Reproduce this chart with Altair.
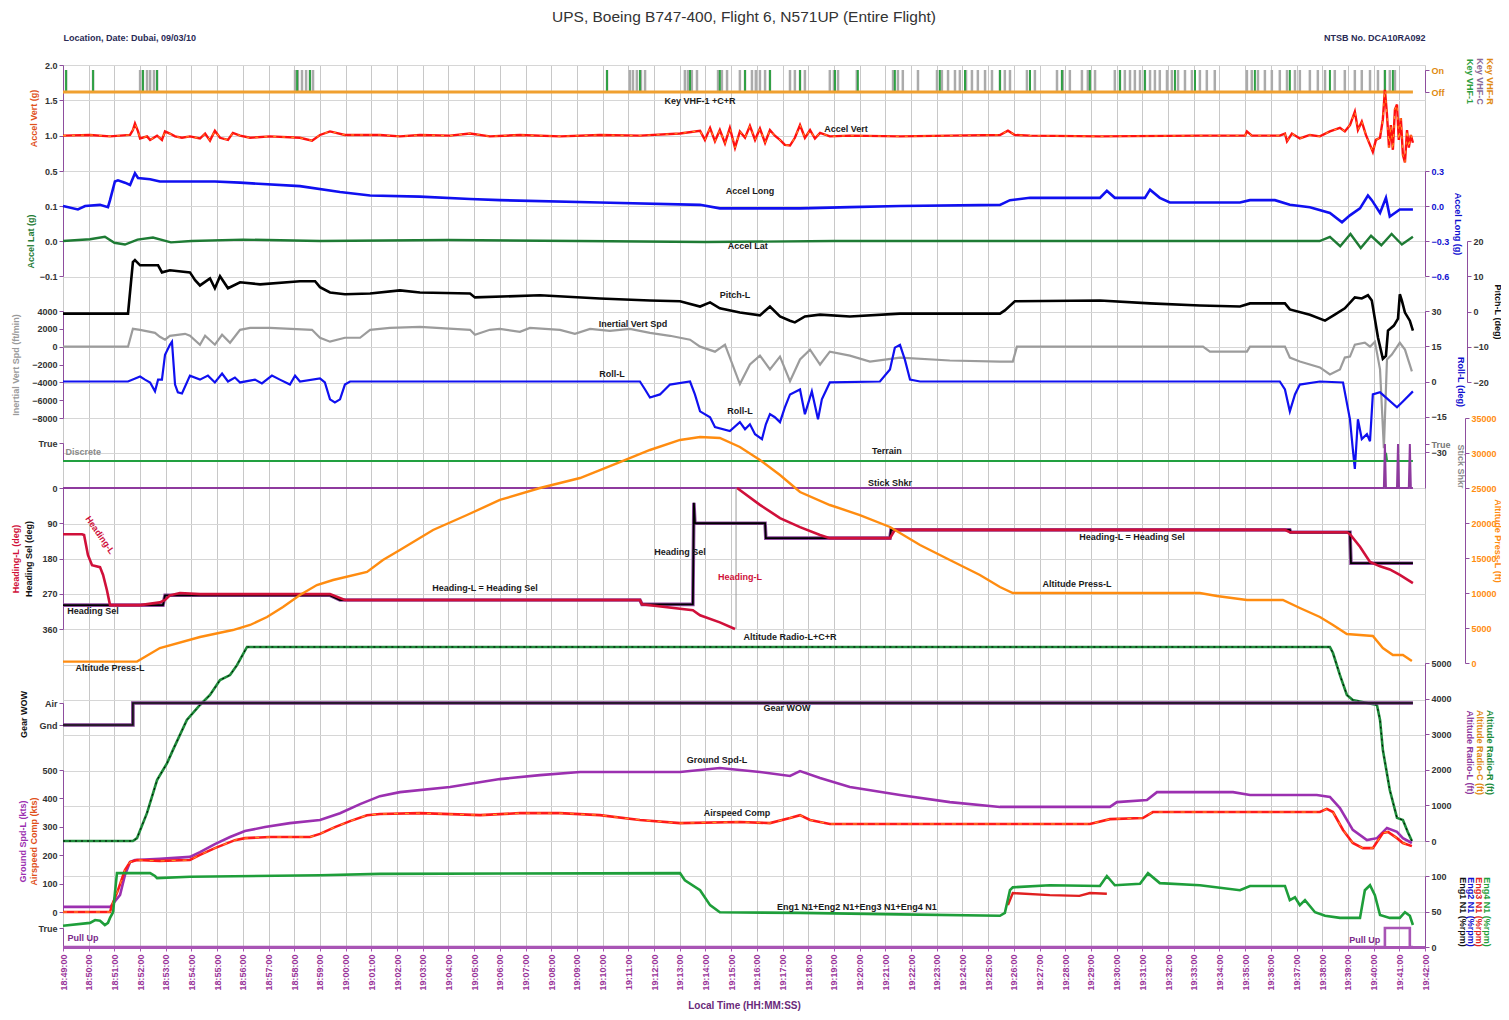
import altair as alt
import pandas as pd

FONT = "Liberation Sans Narrow, Arial Narrow, Liberation Sans, Arial, sans-serif"

# ---------------- data: minutes after 18:49:00 local, value ----------------
tick_minutes = list(range(0, 54))

vhf_keyed_gray = [0.12, 1.17, 3.00, 3.11, 3.27, 3.39, 3.54, 3.66, 9.03, 9.14, 9.30, 9.46, 9.61, 9.73,
                  21.17, 22.06, 22.18, 22.33, 22.49, 22.65, 24.20, 24.32, 24.47, 24.67, 25.49, 25.64,
                  25.84, 26.34, 26.54, 26.81, 26.96, 27.12, 27.32, 27.51, 28.29, 28.48, 28.68, 28.87,
                  29.84, 30.00, 30.16, 30.89, 32.30, 32.49, 32.68, 33.27, 34.01, 34.20, 34.44, 34.71,
                  34.90, 35.14, 35.37, 35.60, 35.88, 36.15, 36.46, 36.65, 36.85, 37.51, 37.82, 38.68,
                  38.91, 39.18, 39.65, 39.88, 40.16, 40.93, 41.13, 41.32, 41.52, 41.71, 41.91, 42.10,
                  42.30, 42.49, 42.68, 42.96, 43.15, 43.39, 43.66, 43.93, 44.24, 44.51, 44.82, 46.07,
                  46.26, 46.50, 46.77, 47.04, 47.35, 47.63, 47.94, 48.13, 48.52, 48.83, 49.11, 49.49,
                  49.88, 50.27, 50.54, 50.86, 51.17, 51.44, 51.63, 51.83]
vhf_keyed_green = [0.12, 1.17, 3.11, 3.66, 9.11, 9.61, 21.17, 22.45, 24.40, 25.56, 26.54, 27.51,
                   28.68, 30.04, 30.93, 32.37, 34.12, 35.10, 36.46, 37.63, 38.87, 39.96, 41.13,
                   42.10, 43.27, 44.05, 46.38, 47.74, 49.30, 51.44, 51.75]
vhf_off = [(0.0, 0), (52.53, 0)]

accel_vert = [(0, 1.00), (1.05, 1.01), (1.83, 0.99), (2.61, 1.01), (2.72, 1.08), (2.80, 1.17), (2.92, 1.06),
              (3.00, 0.96), (3.27, 0.99), (3.39, 0.94), (3.66, 1.00), (3.85, 0.94), (3.97, 1.06), (4.16, 1.03),
              (4.36, 0.99), (4.63, 0.97), (4.94, 0.99), (5.33, 0.96), (5.53, 1.03), (5.72, 0.93), (5.91, 1.07),
              (6.11, 0.97), (6.42, 0.94), (6.61, 1.04), (6.89, 1.00), (7.28, 0.97), (8.05, 0.99), (9.22, 0.97),
              (9.69, 0.93), (10.0, 1.01), (10.39, 1.06), (10.97, 1.01), (12.33, 1.01), (13.11, 0.99),
              (13.89, 1.01), (15.06, 1.00), (15.84, 1.03), (16.61, 0.99), (17.78, 1.01), (19.34, 0.99),
              (20.89, 1.01), (22.45, 1.00), (24.01, 1.03), (24.79, 1.07), (24.98, 0.94), (25.18, 1.11),
              (25.37, 0.92), (25.56, 1.08), (25.76, 0.89), (25.95, 1.11), (26.15, 0.83), (26.34, 1.06),
              (26.54, 0.97), (26.73, 1.14), (26.93, 0.94), (27.12, 1.10), (27.32, 0.90), (27.51, 1.08),
              (27.70, 1.00), (27.90, 0.94), (28.09, 0.87), (28.29, 0.86), (28.48, 0.97), (28.68, 1.15),
              (28.87, 0.97), (29.07, 1.08), (29.26, 0.96), (29.46, 1.04), (29.84, 0.99), (30.62, 1.00),
              (32.57, 0.99), (34.51, 1.00), (36.46, 1.01), (36.77, 1.07), (37.04, 1.01), (37.63, 1.00),
              (40.35, 0.99), (44.24, 1.00), (46.00, 1.00), (46.07, 1.06), (46.26, 1.00), (47.35, 1.00),
              (47.55, 1.03), (47.63, 0.92), (47.82, 1.03), (48.13, 0.96), (48.52, 1.01), (48.91, 0.99),
              (49.30, 1.06), (49.69, 1.11), (49.88, 1.06), (50.08, 1.15), (50.27, 1.34), (50.39, 1.08),
              (50.54, 1.20), (50.70, 1.01), (50.86, 0.87), (50.97, 0.77), (51.09, 0.94), (51.25, 0.97),
              (51.36, 1.23), (51.44, 1.65), (51.52, 1.30), (51.60, 0.83), (51.67, 1.15), (51.75, 0.80),
              (51.83, 1.37), (51.91, 1.44), (51.98, 0.94), (52.06, 1.25), (52.14, 0.73), (52.22, 0.62),
              (52.30, 1.08), (52.37, 0.83), (52.45, 1.01), (52.53, 0.90)]

accel_long = [(0, 0.0), (0.58, -0.03), (0.86, 0.0), (1.44, 0.01), (1.75, -0.01), (1.83, 0.05), (2.02, 0.21),
              (2.14, 0.22), (2.41, 0.20), (2.61, 0.18), (2.80, 0.28), (2.92, 0.24), (3.39, 0.23), (3.77, 0.21),
              (4.36, 0.21), (5.33, 0.21), (5.91, 0.21), (6.89, 0.20), (9.22, 0.17), (10.78, 0.12),
              (11.95, 0.09), (13.89, 0.08), (15.84, 0.06), (17.0, 0.05), (20.89, 0.03), (24.79, 0.01),
              (25.56, -0.02), (28.68, -0.02), (30.62, -0.01), (32.57, 0.0), (36.46, 0.01), (36.85, 0.05),
              (37.63, 0.07), (40.35, 0.07), (40.62, 0.13), (40.93, 0.07), (42.10, 0.07), (42.30, 0.14),
              (42.68, 0.07), (43.07, 0.03), (45.80, 0.03), (46.19, 0.05), (47.16, 0.05), (47.74, 0.01),
              (48.52, -0.01), (49.30, -0.06), (49.77, -0.14), (50.08, -0.08), (50.47, -0.02), (50.78, 0.09),
              (50.93, 0.05), (51.25, -0.06), (51.48, 0.07), (51.63, -0.09), (52.02, -0.03), (52.53, -0.03)]

accel_lat = [(0, 0.0), (1.05, 0.005), (1.63, 0.012), (2.0, -0.005), (2.41, -0.01), (2.9, 0.004), (3.5, 0.01),
             (4.2, -0.004), (5, 0.0), (7, 0.004), (10, 0.0), (15, 0.003), (20, 0.0), (25, -0.003), (30, 0.0),
             (40, 0.0), (48.9, 0.0), (49.3, 0.012), (49.7, -0.015), (50.1, 0.02), (50.5, -0.02), (50.9, 0.015),
             (51.3, -0.012), (51.7, 0.02), (52.1, -0.01), (52.53, 0.012)]

pitch = [(0, -0.6), (2.53, -0.6), (2.72, 14.0), (2.80, 14.6), (3.00, 13.1), (3.70, 13.1), (3.85, 11.1),
         (4.16, 11.7), (4.94, 11.1), (5.14, 8.9), (5.33, 7.4), (5.72, 9.4), (5.91, 6.6), (6.11, 10.0),
         (6.42, 6.6), (6.89, 8.3), (7.67, 7.7), (9.22, 8.6), (9.81, 8.6), (10.0, 6.9), (10.39, 5.4),
         (10.97, 4.9), (11.95, 5.1), (13.11, 6.0), (13.89, 5.4), (15.84, 5.1), (16.03, 4.0), (18.56, 4.6),
         (20.89, 3.7), (22.84, 3.1), (24.01, 2.9), (24.79, 1.4), (25.18, 2.6), (25.56, 0.9), (26.34, -0.3),
         (27.12, -1.1), (27.51, 1.4), (27.90, -1.4), (28.29, -2.6), (28.48, -3.1), (28.87, -1.4),
         (29.46, -0.9), (30.62, -1.4), (32.57, -0.6), (36.46, -0.6), (36.65, 0.3), (37.04, 2.9),
         (40.35, 3.1), (42.30, 2.3), (44.24, 1.7), (45.80, 1.4), (46.19, 2.3), (47.55, 2.3), (47.74, 0.6),
         (48.52, -0.9), (49.11, -2.6), (49.49, -0.9), (49.88, 0.9), (50.27, 4.0), (50.54, 3.7), (50.78, 4.6),
         (50.93, 3.1), (51.17, -7.4), (51.36, -13.4), (51.48, -12.6), (51.56, -5.4), (51.79, -4.0),
         (51.95, -2.0), (52.02, 4.9), (52.10, 3.1), (52.22, -0.3), (52.41, -2.6), (52.53, -5.4)]

vert_spd = [(0, 0), (2.53, 0), (2.72, 2000), (3.00, 1890), (3.58, 1550), (3.77, 1110), (3.97, 780), (4.16, 1220),
            (4.75, 1440), (4.94, 1220), (5.33, 220), (5.53, 1220), (5.91, 220), (6.19, 1330), (6.50, 440),
            (6.89, 1890), (7.28, 2110), (8.05, 2110), (9.69, 1890), (10.0, 1000), (10.39, 560), (10.97, 1000),
            (11.56, 1000), (11.95, 1890), (12.72, 2110), (13.89, 2220), (15.84, 1890), (16.03, 1330),
            (16.61, 1890), (17.0, 2000), (17.78, 1670), (18.17, 2110), (19.34, 1890), (19.92, 1440),
            (20.51, 2000), (21.28, 1780), (22.06, 2000), (22.84, 1550), (23.62, 1220), (24.40, 780),
            (24.79, 0), (25.37, -560), (25.76, 220), (26.34, -4200), (26.73, -2000), (27.12, -1000),
            (27.51, -2550), (27.90, -1110), (28.29, -3880), (28.68, -1440), (29.07, -330), (29.46, -2000),
            (29.84, -560), (30.62, -1000), (31.40, -1670), (32.57, -1220), (34.51, -1550), (36.46, -1670),
            (36.96, -1670), (37.12, 0), (44.36, 0), (44.63, -560), (46.07, -560), (46.19, 0), (47.55, 0),
            (47.74, -1220), (48.13, -1670), (48.91, -2330), (49.30, -3110), (49.69, -2550), (49.88, -1220),
            (50.08, -1110), (50.27, 220), (50.66, 440), (50.86, 0), (51.05, 560), (51.25, -2550),
            (51.40, -11400), (51.52, -1440), (51.71, -890), (52.02, 440), (52.22, -330), (52.49, -2780)]

roll = [(0, 0), (2.53, 0), (3.0, 2.1), (3.19, 0.8), (3.39, -0.4), (3.58, -4.2), (3.70, 0.8), (3.85, 0.8),
        (3.97, 11.4), (4.16, 15.6), (4.24, 16.9), (4.36, -1.3), (4.47, -4.6), (4.63, -5.1), (4.94, 2.5),
        (5.33, 0.8), (5.64, 2.5), (5.91, -0.4), (6.19, 3.4), (6.42, 0), (6.69, 1.7), (6.89, -0.4), (7.47, 0.8),
        (7.74, -0.8), (8.13, 2.5), (8.44, 0.8), (8.83, -1.3), (9.03, 2.5), (9.22, 0), (10.0, 1.3),
        (10.19, -0.4), (10.39, -7.6), (10.58, -8.9), (10.78, -7.6), (10.97, -1.3), (11.17, 0), (22.45, 0),
        (22.65, -3.4), (22.84, -6.8), (23.23, -5.5), (23.62, -1.3), (24.40, 0), (24.59, -5.5), (24.79, -12.7),
        (25.18, -15.2), (25.37, -19.4), (25.95, -21.1), (26.34, -17.3), (26.54, -20.3), (26.73, -18.2),
        (26.93, -22.4), (27.20, -24.5), (27.35, -18.2), (27.51, -13.9), (27.70, -15.2), (27.90, -17.3),
        (28.09, -11.0), (28.29, -5.5), (28.68, -3.4), (28.87, -13.9), (29.14, -4.2), (29.38, -16.1),
        (29.53, -7.6), (29.84, -0.4), (31.79, 0), (32.18, 5.1), (32.37, 14.4), (32.57, 15.6), (32.76, 9.3),
        (32.96, 0.8), (33.35, 0), (47.35, 0), (47.55, -3.4), (47.74, -12.7), (47.94, -5.5), (48.13, -1.3),
        (48.91, 0), (49.81, -0.4), (50.08, -16.1), (50.19, -28.7), (50.27, -37.2), (50.39, -16.1),
        (50.54, -24.5), (50.74, -22.4), (50.86, -25.4), (50.97, -5.5), (51.25, -4.6), (51.91, -11.0),
        (52.14, -8.5), (52.53, -4.2)]

terrain = [(0, 0), (51.44, 0), (51.48, 0.45), (51.52, 0), (52.53, 0)]
stick_shaker = [(0, 0), (51.40, 0), (51.44, 1), (51.48, 0), (51.91, 0), (51.95, 1), (51.99, 0),
                (52.37, 0), (52.41, 1), (52.45, 0), (52.53, 0)]

heading_l_a = [(0, 118), (0.74, 118), (0.82, 120), (0.97, 171), (1.13, 197), (1.44, 202), (1.56, 222),
               (1.71, 261), (1.83, 299), (3.0, 299), (3.77, 292), (3.97, 286), (4.16, 274), (4.55, 268),
               (5.33, 271), (10.39, 271), (10.97, 286), (22.45, 286), (22.53, 297), (24.51, 312),
               (24.79, 325), (25.56, 343), (26.15, 360)]
heading_l_b = [(26.23, 0), (27.12, 43), (27.90, 77), (28.68, 100), (29.46, 120), (29.84, 128), (32.18, 128),
               (32.37, 107), (47.55, 107), (47.74, 113), (49.96, 113), (50.08, 118), (50.47, 150),
               (50.86, 189), (51.25, 200), (51.63, 208), (52.02, 222), (52.53, 243)]
heading_wrap = [(26.19, 0), (26.19, 360)]
heading_sel = [(0, 299), (3.89, 299), (3.97, 274), (10.39, 274), (10.78, 286), (22.45, 286), (22.53, 297),
               (24.51, 297), (24.55, 38), (24.59, 90), (27.32, 90), (27.35, 128), (32.18, 128), (32.22, 107),
               (47.74, 107), (47.78, 113), (50.08, 113), (50.12, 192), (52.53, 192)]

alt_press = [(0, 200), (2.72, 200), (2.88, 200), (3.77, 2140), (5.33, 3710), (6.61, 4710), (7.28, 5430),
             (7.94, 6570), (8.56, 8000), (9.22, 9710), (9.88, 11140), (10.51, 11860), (11.83, 13000),
             (12.45, 14710), (13.11, 16140), (14.40, 19000), (15.72, 21140), (17.0, 23290), (18.56, 25000),
             (20.12, 26430), (21.67, 28710), (22.84, 30430), (24.01, 31860), (24.79, 32290), (25.56, 32140),
             (26.34, 30860), (27.12, 29000), (27.90, 26860), (28.68, 24430), (29.84, 22570), (31.01, 21140),
             (32.18, 19430), (33.35, 16860), (34.51, 14710), (35.68, 12570), (36.46, 10860), (36.96, 10000),
             (44.24, 10000), (44.90, 9570), (46.07, 9000), (47.47, 9000), (48.13, 7860), (48.91, 6570),
             (49.42, 5430), (49.96, 4140), (50.97, 3860), (51.36, 2140), (51.75, 1140), (52.14, 1140),
             (52.49, 290)]

alt_radio = [(0, 0), (2.72, 0), (2.88, 80), (3.27, 790), (3.66, 1710), (4.05, 2190), (4.28, 2560), (4.82, 3400),
             (5.33, 3820), (5.72, 4100), (6.11, 4520), (6.50, 4660), (6.77, 4940), (7.16, 5450), (49.30, 5450),
             (49.42, 5280), (49.69, 4660), (49.96, 4100), (50.19, 3960), (51.13, 3820), (51.25, 3400),
             (51.36, 2560), (51.63, 1430), (51.91, 650), (52.14, 590), (52.33, 250), (52.49, 0)]

gear_wow = [(0, 0), (2.72, 1), (52.53, 1)]

airspeed = [(0, 0), (1.83, 0), (1.91, 25), (2.14, 77), (2.41, 148), (2.61, 176), (2.88, 183), (3.77, 180),
            (4.94, 183), (5.33, 201), (5.91, 225), (6.69, 253), (7.08, 260), (8.05, 264), (9.61, 264),
            (10.0, 275), (10.58, 299), (11.17, 320), (11.83, 341), (12.33, 345), (13.89, 348), (16.23, 341),
            (17.78, 348), (19.34, 348), (20.89, 341), (22.45, 324), (24.01, 313), (26.34, 317), (27.51, 313),
            (28.29, 331), (28.68, 341), (29.07, 324), (29.84, 310), (39.96, 310), (40.74, 327), (42.02, 331),
            (42.41, 352), (48.91, 352), (49.18, 363), (49.42, 352), (49.81, 289), (50.19, 243), (50.58, 225),
            (50.97, 225), (51.36, 278), (51.56, 282), (51.91, 260), (52.14, 243), (52.49, 232)]

ground_spd = [(0, 18), (1.83, 18), (1.91, 25), (2.22, 60), (2.41, 130), (2.61, 176), (2.80, 183), (3.77, 187),
              (4.94, 194), (5.33, 211), (5.91, 239), (6.50, 264), (7.08, 285), (7.86, 299), (8.83, 313),
              (10.0, 324), (10.78, 348), (11.56, 380), (12.33, 408), (13.11, 422), (15.06, 440), (17.0, 468),
              (18.56, 482), (20.12, 493), (24.01, 493), (25.56, 507), (27.12, 493), (28.29, 479), (28.68, 496),
              (29.46, 472), (30.62, 440), (32.57, 412), (34.51, 387), (36.46, 370), (40.74, 370), (41.01, 387),
              (42.18, 394), (42.57, 422), (45.53, 422), (46.19, 412), (48.79, 412), (49.30, 405), (49.69, 366),
              (50.19, 289), (50.74, 253), (51.13, 260), (51.52, 296), (51.91, 282), (52.14, 260), (52.49, 243)]

n1_green = [(0, 30), (1.05, 34), (1.25, 38), (1.44, 37), (1.63, 31), (1.75, 34), (1.83, 41), (1.95, 49),
            (2.02, 76), (2.10, 104), (3.39, 104), (3.58, 100), (3.66, 97), (4.94, 99), (10.0, 101), (12.33, 103),
            (24.01, 104), (24.20, 94), (24.79, 80), (25.18, 59), (25.56, 49), (28.68, 48), (32.57, 46),
            (36.46, 44), (36.65, 48), (36.85, 80), (36.96, 84), (38.40, 87), (40.35, 86), (40.62, 100),
            (40.93, 87), (41.91, 89), (42.22, 104), (42.68, 90), (44.24, 87), (45.80, 80), (46.19, 86),
            (47.55, 86), (47.74, 66), (47.94, 70), (48.13, 59), (48.33, 66), (48.72, 49), (49.11, 44),
            (49.69, 41), (50.47, 41), (50.66, 80), (50.86, 87), (51.05, 73), (51.25, 45), (51.63, 41),
            (52.02, 41), (52.22, 49), (52.41, 44), (52.53, 31)]
n1_red = [(36.77, 59), (36.96, 76), (38.40, 73), (39.55, 72), (39.96, 76), (40.62, 75)]

pull_up = [(0, 0), (51.44, 1), (52.41, 0), (52.53, 0)]

# in-plot labels: (minute, value, text)
lbl_vhf = [(24.79, -0.41, "Key VHF-1 +C+R")]
lbl_avert = [(30.47, 1.10, "Accel Vert")]
lbl_along = [(26.73, 0.13, "Accel Long")]
lbl_alat = [(26.65, -0.014, "Accel Lat")]
lbl_pitch = [(26.15, 4.6, "Pitch-L")]
lbl_ivs = [(22.18, 2550, "Inertial Vert Spd")]
lbl_roll = [(21.36, 3.4, "Roll-L"), (26.34, -12.7, "Roll-L")]
lbl_terrain = [(32.06, 0.56, "Terrain")]
lbl_discrete = [(0.1, 0.5, "Discrete")]
lbl_stick = [(32.18, 0.11, "Stick Shkr")]
lbl_heading_black = [(24.01, 164, "Heading Sel"), (16.42, 256, "Heading-L = Heading Sel"),
                     (41.6, 125, "Heading-L = Heading Sel"), (1.17, 315, "Heading Sel")]
lbl_heading_red = [(26.34, 228, "Heading-L")]
lbl_heading_rot = [(1.44, 120, "Heading-L")]
lbl_press = [(39.46, 11290, "Altitude Press-L"), (1.83, -714, "Altitude Press-L")]
lbl_radio = [(28.29, 5730, "Altitude Radio-L+C+R")]
lbl_gear = [(28.17, 0.77, "Gear WOW")]
lbl_speed = [(25.45, 535, "Ground Spd-L"), (26.23, 348, "Airspeed Comp")]
lbl_n1 = [(30.89, 56, "Eng1 N1+Eng2 N1+Eng3 N1+Eng4 N1")]
lbl_pull = [(0.78, 0.5, "Pull Up"), (50.66, 0.37, "Pull Up")]

# ---------------- layout of the stacked panels (plot px from top) ----------------
PANELS = {
    'vhf': ([0, 1], [27, 5]),
    'avert': ([0.5, 2.0], [106, 0]),
    'along': ([-0.6, 0.3], [211, 106]),
    'alat': ([-0.1, 0.1], [211, 141]),
    'pitch': ([-20, 20], [317, 176]),
    'ivs': ([-8000, 4000], [353, 246]),
    'roll': ([-30, 30], [387, 246]),
    'terrain': ([0, 1], [396, 378]),
    'stick': ([0, 1], [423, 379]),
    'heading': ([0, 360], [423, 564]),
    'press': ([0, 35000], [598, 353]),
    'radio': ([0, 5000], [776, 598]),
    'gear': ([0, 1], [660, 638]),
    'speed': ([0, 500], [847, 705]),
    'n1': ([0, 100], [882, 811]),
    'pull': ([0, 1], [882, 863]),
}
W, H = 1362, 882
XS = alt.Scale(domain=[0, 53], nice=False, zero=False)
AXC = '#8E4E9E'


def ysc(p):
    dom, rng = PANELS[p]
    return alt.Scale(domain=dom, range=rng, nice=False, zero=False)


def yaxis(orient, values, title, title_x, title_color='#222222', label_color='#333333', offset=0,
          label_expr=None, fmt=None):
    kw = dict(orient=orient, values=values, offset=offset, grid=False, labelFont=FONT, labelFontSize=9,
              labelFontWeight='bold', labelColor=label_color, domainColor=AXC, tickColor=AXC, tickSize=4,
              labelPadding=2, labelOverlap=False, labelFlush=False, titleFont=FONT, titleFontSize=9,
              titleFontWeight='bold', titleColor=title_color, titleBaseline='middle', titleAlign='center')
    if title:
        kw['title'] = title
        kw['titleX'] = title_x
    else:
        kw['title'] = None
    if label_expr:
        kw['labelExpr'] = label_expr
    if fmt:
        kw['format'] = fmt
    return alt.Axis(**kw)


def df_of(pairs):
    return pd.DataFrame(pairs, columns=['m', 'v'])


def line(pairs, p, color, width=2.0, dash=None, interp=None, axis=None, detail=False):
    mk = dict(color=color, strokeWidth=width)
    if dash:
        mk['strokeDash'] = dash
    if interp:
        mk['interpolate'] = interp
    enc = dict(x=alt.X('m:Q', scale=XS, axis=None),
               y=alt.Y('v:Q', scale=ysc(p), axis=axis))
    if detail:
        enc['detail'] = 'seg:N'
        data = pairs
    else:
        data = df_of(pairs)
    return alt.Chart(data).mark_line(**mk).encode(**enc)


def texts(rows, p, color='#1a1a1a', angle=0, align='center', size=9):
    df = pd.DataFrame(rows, columns=['m', 'v', 'label'])
    return alt.Chart(df).mark_text(font=FONT, fontSize=size, fontWeight='bold', color=color, angle=angle,
                                   align=align, baseline='middle').encode(
        x=alt.X('m:Q', scale=XS, axis=None), y=alt.Y('v:Q', scale=ysc(p), axis=None), text='label:N')


def title_only(p, orient, text, color, title_x, offset=0):
    dom = PANELS[p][0]
    df = pd.DataFrame({'m': [0.0], 'v': [dom[0]]})
    ax = alt.Axis(orient=orient, labels=False, ticks=False, domain=False, grid=False, title=text,
                  titleX=title_x, titleColor=color, titleFont=FONT, titleFontSize=9, titleFontWeight='bold',
                  titleBaseline='middle', titleAlign='center', offset=offset)
    return alt.Chart(df).mark_point(opacity=0).encode(
        x=alt.X('m:Q', scale=XS, axis=None), y=alt.Y('v:Q', scale=ysc(p), axis=ax))


layers = []

# ---- grid + time axis ----
xaxis = alt.Axis(values=tick_minutes,
                 labelExpr="utcFormat(datum.value * 60000 + 67740000, '%H:%M:%S')",
                 labelAngle=270, labelFont=FONT, labelFontSize=9, labelFontWeight='bold',
                 labelColor='#993399', labelOverlap=False, labelPadding=3, grid=True, gridColor='#c8c8c8',
                 domainColor='#A855B5', domainWidth=3, tickColor='#A855B5', tickSize=4,
                 title='Local Time (HH:MM:SS)', titleFont=FONT, titleFontSize=10, titleFontWeight='bold',
                 titleColor='#6A2A7A', titleY=58, titleBaseline='middle')
ygrid = alt.Axis(orient='left', values=list(range(26)), labels=False, ticks=False, domain=False, grid=True,
                 gridColor='#d6d6d6', title=None)
layers.append(alt.Chart(pd.DataFrame({'m': [0.0], 'v': [0.0]})).mark_point(opacity=0).encode(
    x=alt.X('m:Q', scale=XS, axis=xaxis),
    y=alt.Y('v:Q', scale=alt.Scale(domain=[0, 25], range=[H, 0], nice=False, zero=False), axis=ygrid)))

# header texts as top axis titles
for txt, anchor_x, al in [("Location, Date: Dubai, 09/03/10", 0, 'left'), ("NTSB No. DCA10RA092", W, 'right')]:
    ax = alt.Axis(orient='top', labels=False, ticks=False, domain=False, grid=False, title=txt,
                  titleX=anchor_x, titleY=-28, titleAlign=al, titleBaseline='middle', titleFont=FONT,
                  titleFontSize=9, titleFontWeight='bold', titleColor='#2a2a55')
    layers.append(alt.Chart(pd.DataFrame({'m': [0.0]})).mark_point(opacity=0).encode(
        x=alt.X('m:Q', scale=XS, axis=ax), y=alt.value(0)))

# ---- Key VHF ----
g_df = pd.DataFrame({'m': vhf_keyed_gray, 'lo': 0, 'hi': 1})
gr_df = pd.DataFrame({'m': vhf_keyed_green, 'lo': 0, 'hi': 1})
layers.append(alt.Chart(g_df).mark_rule(color='#ababab', strokeWidth=2.5).encode(
    x=alt.X('m:Q', scale=XS, axis=None),
    y=alt.Y('lo:Q', scale=ysc('vhf'),
            axis=yaxis('right', [0, 1], "Key VHF-1", 44, '#2E9E3E', '#E08A10',
                       label_expr="datum.value == 1 ? 'On' : 'Off'")),
    y2='hi:Q'))
layers.append(alt.Chart(gr_df).mark_rule(color='#2EA043', strokeWidth=2).encode(
    x=alt.X('m:Q', scale=XS, axis=None), y=alt.Y('lo:Q', scale=ysc('vhf'), axis=None), y2='hi:Q'))
layers.append(line(vhf_off, 'vhf', '#F0A030', 3))
layers.append(title_only('vhf', 'right', "Key VHF-C", '#8a6a9a', 54))
layers.append(title_only('vhf', 'right', "Key VHF-R", '#E08A10', 64))
layers.append(texts(lbl_vhf, 'vhf'))

# ---- Accel Vert ----
layers.append(line(accel_vert, 'avert', '#FF1010', 2.4,
                   axis=yaxis('left', [0.5, 1.0, 1.5, 2.0], "Accel Vert (g)", -30, '#E0501A', fmt='.1f')))
layers.append(line(accel_vert, 'avert', '#FFA020', 1.0, dash=[3, 6]))
layers.append(texts(lbl_avert, 'avert'))

# ---- Accel Lat ----
layers.append(line(accel_lat, 'alat', '#1E7B34', 2.4,
                   axis=yaxis('left', [-0.1, 0.0, 0.1], "Accel Lat (g)", -33, '#1E7B34', fmt='.1f')))
layers.append(texts(lbl_alat, 'alat'))

# ---- Accel Long ----
layers.append(line(accel_long, 'along', '#1010F0', 2.6,
                   axis=yaxis('right', [-0.6, -0.3, 0.0, 0.3], "Accel Long (g)", 32, '#1010D0', '#1010D0',
                              fmt='.1f')))
layers.append(texts(lbl_along, 'along'))

# ---- Inertial vertical speed ----
layers.append(line(vert_spd, 'ivs', '#9c9c9c', 2.2,
                   axis=yaxis('left', [-8000, -6000, -4000, -2000, 0, 2000, 4000], "Inertial Vert Spd (ft/min)",
                              -48, '#9a9a9a', fmt='d')))
layers.append(texts(lbl_ivs, 'ivs'))

# ---- Pitch ----
layers.append(line(pitch, 'pitch', '#000000', 2.6,
                   axis=yaxis('right', [-20, -10, 0, 10, 20], "Pitch-L (deg)", 30, '#111111', offset=42)))
layers.append(texts(lbl_pitch, 'pitch'))

# ---- Roll ----
layers.append(line(roll, 'roll', '#1010F0', 2.2,
                   axis=yaxis('right', [-30, -15, 0, 15, 30], "Roll-L (deg)", 35, '#1010D0')))
layers.append(texts(lbl_roll, 'roll'))

# ---- Terrain / Stick shaker ----
layers.append(line(terrain, 'terrain', '#22A040', 2.2,
                   axis=yaxis('left', [1], None, 0, label_expr="'True'")))
layers.append(texts(lbl_terrain, 'terrain'))
layers.append(texts(lbl_discrete, 'terrain', color='#8a8a8a', align='left'))
layers.append(line(stick_shaker, 'stick', '#8E3A9E', 2.0,
                   axis=yaxis('right', [1], "Stick Shkr", 35, '#8a8a8a', '#777777', label_expr="'True'")))
layers.append(texts(lbl_stick, 'stick'))

# ---- Heading ----
hl = pd.concat([df_of(heading_l_a).assign(seg='a'), df_of(heading_l_b).assign(seg='b')])
layers.append(line(heading_wrap, 'heading', '#9a9a9a', 1.0))
layers.append(line(heading_sel, 'heading', '#8E4A9E', 3.6,
                   axis=yaxis('left', [0, 90, 180, 270, 360], "Heading Sel (deg)", -35, '#111111')))
layers.append(line(heading_sel, 'heading', '#000000', 1.8))
layers.append(line(hl, 'heading', '#D0103A', 2.6, detail=True))
layers.append(title_only('heading', 'left', "Heading-L (deg)", '#D0103A', -48))
layers.append(texts(lbl_heading_black, 'heading'))
layers.append(texts(lbl_heading_red, 'heading', color='#D0103A'))
layers.append(texts(lbl_heading_rot, 'heading', color='#D0103A', angle=55))

# ---- Altitude pressure ----
layers.append(line(alt_press, 'press', '#FF8C10', 2.4,
                   axis=yaxis('right', [0, 5000, 10000, 15000, 20000, 25000, 30000, 35000],
                              "Altitude Press-L (ft)", 32, '#FF8C10', '#FF8C10', offset=40, fmt='d')))
layers.append(texts(lbl_press, 'press'))

# ---- Altitude radio ----
layers.append(line(alt_radio, 'radio', '#1E8B3A', 2.6,
                   axis=yaxis('right', [0, 1000, 2000, 3000, 4000, 5000], "Altitude Radio-L (ft)", 44,
                              '#8E3A9E', fmt='d')))
layers.append(line(alt_radio, 'radio', '#000000', 1.0, dash=[2, 4]))
layers.append(title_only('radio', 'right', "Altitude Radio-C (ft)", '#E08A10', 54))
layers.append(title_only('radio', 'right', "Altitude Radio-R (ft)", '#1E8B3A', 64))
layers.append(texts(lbl_radio, 'radio'))

# ---- Gear WOW ----
layers.append(line(gear_wow, 'gear', '#7A3A8A', 3.6, interp='step-after',
                   axis=yaxis('left', [0, 1], "Gear WOW", -40, '#111111',
                              label_expr="datum.value == 1 ? 'Air' : 'Gnd'")))
layers.append(line(gear_wow, 'gear', '#111111', 1.6, interp='step-after'))
layers.append(texts(lbl_gear, 'gear'))

# ---- Speeds ----
layers.append(line(ground_spd, 'speed', '#9B30B0', 2.6,
                   axis=yaxis('left', [0, 100, 200, 300, 400, 500], "Airspeed Comp (kts)", -30, '#E0501A')))
layers.append(line(airspeed, 'speed', '#FF1A1A', 2.6))
layers.append(line(airspeed, 'speed', '#FFA020', 1.0, dash=[4, 7]))
layers.append(title_only('speed', 'left', "Ground Spd-L (kts)", '#9B30B0', -41))
layers.append(texts(lbl_speed, 'speed'))

# ---- Engine N1 ----
layers.append(line(n1_red, 'n1', '#E02020', 2.4,
                   axis=yaxis('right', [0, 50, 100], "Eng1 N1 (%rpm)", 37, '#111111')))
layers.append(line(n1_green, 'n1', '#1E9E3A', 2.6))
layers.append(title_only('n1', 'right', "Eng2 N1 (%rpm)", '#1010D0', 45))
layers.append(title_only('n1', 'right', "Eng3 N1 (%rpm)", '#E02020', 53))
layers.append(title_only('n1', 'right', "Eng4 N1 (%rpm)", '#1E9E3A', 61))
layers.append(texts(lbl_n1, 'n1'))

# ---- Pull Up ----
layers.append(line(pull_up, 'pull', '#A855B5', 2.6, interp='step-after',
                   axis=yaxis('left', [1], None, 0, label_expr="'True'")))
layers.append(texts(lbl_pull, 'pull', color='#7A2A8A'))

chart = alt.layer(*layers).resolve_scale(y='independent').resolve_axis(
    x='independent', y='independent'
).properties(
    width=W, height=H,
    autosize=alt.AutoSizeParams(type='none'),
    padding={'left': 55, 'top': 57, 'right': 76, 'bottom': 65},
    title=alt.Title("UPS, Boeing B747-400, Flight 6, N571UP (Entire Flight)", font=FONT, fontSize=15.5,
                    fontWeight='normal', color='#333333', anchor='middle', offset=8),
).configure_view(stroke='#a0a0a0', strokeWidth=1).configure(background='white')

chart.save("out.html", embed_options={"renderer": "svg", "actions": False})
